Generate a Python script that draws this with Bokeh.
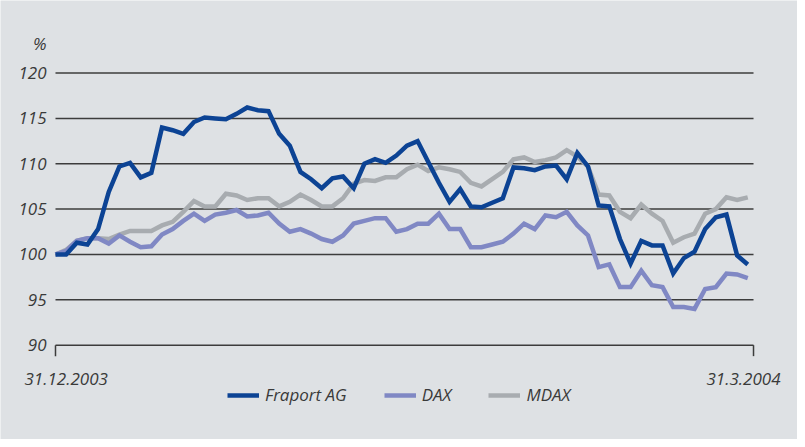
from bokeh.plotting import figure
from bokeh.models import Range1d, Legend, LegendItem
from bokeh.core.properties import value
from bokeh.embed import file_html
from bokeh.resources import INLINE

# ---- data (index values, 31.12.2003 = 100) ----
x_labels = ["31.12.2003", "31.3.2004"]
y_ticks = [90, 95, 100, 105, 110, 115, 120]
unit_label = "%"
series_names = ["Fraport AG", "DAX", "MDAX"]

fraport = [100.0, 100.0, 101.3, 101.1, 102.8, 106.9, 109.7, 110.1, 108.5, 109.0,
           114.0, 113.7, 113.3, 114.6, 115.1, 115.0, 114.9, 115.5, 116.2, 115.9,
           115.8, 113.3, 112.0, 109.1, 108.3, 107.3, 108.4, 108.6, 107.3, 110.0,
           110.5, 110.1, 110.9, 112.0, 112.5, 110.2, 107.9, 105.8, 107.2, 105.3,
           105.2, 105.7, 106.2, 109.6, 109.5, 109.3, 109.7, 109.8, 108.3, 111.2,
           109.7, 105.4, 105.3, 101.7, 99.0, 101.5, 101.0, 101.0, 97.9, 99.6,
           100.3, 102.8, 104.1, 104.4, 99.9, 98.9]

dax = [100.0, 100.4, 101.5, 101.8, 101.8, 101.2, 102.1, 101.4, 100.8, 100.9,
       102.2, 102.8, 103.7, 104.5, 103.7, 104.4, 104.6, 104.9, 104.2, 104.3,
       104.6, 103.4, 102.5, 102.8, 102.3, 101.7, 101.4, 102.1, 103.4, 103.7,
       104.0, 104.0, 102.5, 102.8, 103.4, 103.4, 104.5, 102.8, 102.8, 100.8,
       100.8, 101.1, 101.4, 102.3, 103.4, 102.8, 104.3, 104.1, 104.7, 103.2,
       102.1, 98.6, 98.9, 96.4, 96.4, 98.2, 96.6, 96.4, 94.2, 94.2,
       94.0, 96.2, 96.4, 97.9, 97.8, 97.4]

mdax = [100.0, 100.5, 101.5, 101.8, 101.8, 101.7, 102.2, 102.6, 102.6, 102.6,
        103.2, 103.6, 104.7, 105.9, 105.3, 105.3, 106.7, 106.5, 106.0, 106.2,
        106.2, 105.3, 105.8, 106.6, 106.0, 105.3, 105.3, 106.2, 107.8, 108.2,
        108.1, 108.5, 108.5, 109.4, 109.9, 109.2, 109.6, 109.4, 109.1, 107.9,
        107.5, 108.3, 109.1, 110.5, 110.7, 110.2, 110.4, 110.7, 111.5, 110.8,
        109.7, 106.6, 106.5, 104.7, 104.0, 105.5, 104.5, 103.7, 101.3, 101.9,
        102.3, 104.5, 105.0, 106.3, 106.0, 106.3]

days = list(range(len(fraport)))

# ---- styling ----
BG = "#dee1e4"
TXT = "#3a3a3a"
FONT = "Open Sans"
FS = "17px"
C_FRA = "#0c4394"
C_DAX = "#8088c4"
C_MDAX = "#a8acb0"
LINE = "#3c3c3c"

x_end = 65.54          # right end of the axis (last day sits slightly inside)
unit_pos = 123.3       # height of the "%" marker above the top gridline
base = y_ticks[0]      # axis baseline value
tick_len = 1.21        # end-tick length in value units (~11 px)

p = figure(width=797, height=439, output_backend="svg", toolbar_location=None,
           x_range=Range1d(-5.164, 69.67), y_range=Range1d(79.6, 128.0),
           min_border_left=0, min_border_right=0, min_border_top=0,
           min_border_bottom=0)
p.background_fill_color = BG
p.border_fill_color = BG
p.outline_line_color = None
p.xaxis.visible = False
p.yaxis.visible = False
p.xgrid.visible = False
p.ygrid.visible = False

# horizontal gridlines (95..120)
grid_vals = y_ticks[1:]
p.segment(x0=[0] * len(grid_vals), y0=grid_vals, x1=[x_end] * len(grid_vals),
          y1=grid_vals, line_color=LINE, line_width=1.5)

# baseline at 90 with end ticks
p.segment(x0=[0, 0, x_end], y0=[base, base, base],
          x1=[x_end, 0, x_end], y1=[base, base - tick_len, base - tick_len],
          line_color=LINE, line_width=1.5)

# y tick labels and unit
p.text(x=[0] * (len(y_ticks) + 1), y=y_ticks + [unit_pos],
       text=[str(t) for t in y_ticks] + [unit_label], x_offset=-9,
       text_align="right", text_baseline="middle", text_font=value(FONT),
       text_font_style="italic", text_font_size=value(FS), text_color=TXT)

# date labels under the end ticks
p.text(x=[0], y=[base], text=[x_labels[0]], x_offset=-31, y_offset=34,
       text_align="left", text_baseline="middle", text_font=value(FONT),
       text_font_style="italic", text_font_size=value(FS), text_color=TXT)
p.text(x=[x_end], y=[base], text=[x_labels[1]], x_offset=27, y_offset=34,
       text_align="right", text_baseline="middle", text_font=value(FONT),
       text_font_style="italic", text_font_size=value(FS), text_color=TXT)

# lines
r_mdax = p.line(days, mdax, line_color=C_MDAX, line_width=4.5, line_join="miter")
r_dax = p.line(days, dax, line_color=C_DAX, line_width=4.5, line_join="miter")
r_fra = p.line(days, fraport, line_color=C_FRA, line_width=4.5, line_join="miter")

legend = Legend(items=[LegendItem(label=series_names[0], renderers=[r_fra]),
                       LegendItem(label=series_names[1], renderers=[r_dax]),
                       LegendItem(label=series_names[2], renderers=[r_mdax])],
                orientation="horizontal", location=(227, 33),
                glyph_width=32, glyph_height=18, label_standoff=6, spacing=37,
                padding=0, margin=0, background_fill_alpha=0,
                border_line_alpha=0, label_text_font=FONT,
                label_text_font_style="italic", label_text_font_size=FS,
                label_text_color=TXT, label_height=18)
p.add_layout(legend, "center")

open("out.html", "w").write(file_html(p, INLINE))
